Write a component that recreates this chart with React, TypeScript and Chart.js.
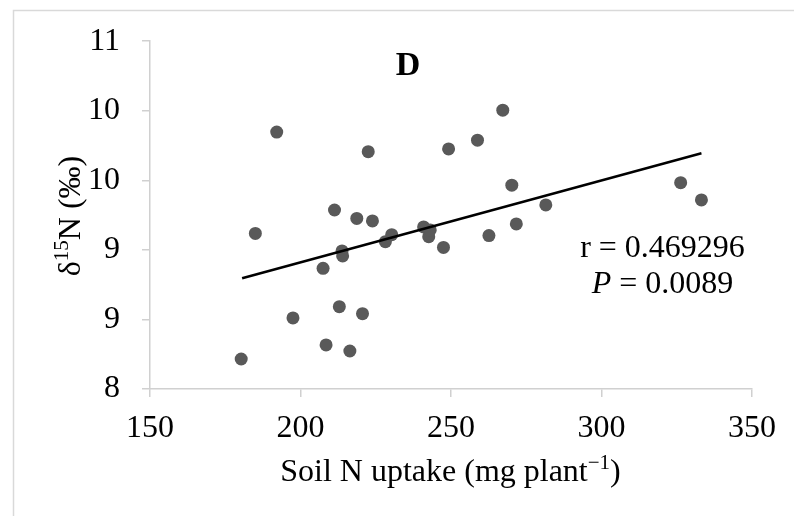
import React, { useEffect, useRef } from "react";
import { Chart, registerables } from "chart.js";

Chart.register(...registerables);

// Soil N uptake (mg plant-1)
const uptake = [180.3, 185.0, 192.1, 197.5, 207.5, 208.5, 211.3, 212.9, 213.8, 214.0, 216.4, 218.7, 220.6, 222.5, 223.9, 228.2, 230.3, 240.9, 242.6, 243.1, 247.5, 249.2, 258.8, 262.6, 267.2, 270.2, 271.7, 281.5, 326.3, 333.2];
// delta 15N (per mil)
const delta15N = [8.259, 9.342, 10.216, 8.613, 9.041, 8.38, 9.544, 8.71, 9.191, 9.148, 8.328, 9.471, 8.65, 10.047, 9.45, 9.271, 9.331, 9.398, 9.314, 9.372, 9.221, 10.071, 10.146, 9.323, 10.405, 9.758, 9.424, 9.588, 9.78, 9.631];
// linear trend line end points
const trendX = [180.6, 333.2];
const trendY = [8.955, 10.034];
// axis ticks
const xTicks = [150, 200, 250, 300, 350];
const yTickValues = [8, 8.6, 9.2, 9.8, 10.4, 11];
const yTickLabels = ["8", "9", "9", "10", "10", "11"];
const panelTitle = "D";
const statLines = ["r = 0.469296", "0.0089"];

const SERIF = "'Liberation Serif', 'Times New Roman', serif";
const AXIS_GREY = "#d0d0d0";

const decorPlugin = {
  id: "decor",
  beforeDraw(chart: any) {
    const ctx = chart.ctx;
    ctx.save();
    ctx.fillStyle = "#ffffff";
    ctx.fillRect(0, 0, chart.width, chart.height);
    ctx.strokeStyle = "#d9d9d9";
    ctx.lineWidth = 1.5;
    ctx.beginPath();
    ctx.moveTo(13.5, chart.height);
    ctx.lineTo(13.5, 10.5);
    ctx.lineTo(chart.width, 10.5);
    ctx.stroke();
    ctx.restore();
  },
  afterDraw(chart: any) {
    const ctx = chart.ctx;
    ctx.save();
    ctx.fillStyle = "#000";
    ctx.textBaseline = "alphabetic";
    const F = 32;
    const S = 21;
    // panel title
    ctx.font = `bold 34px ${SERIF}`;
    ctx.textAlign = "center";
    ctx.fillText(panelTitle, 408, 75);

    // stats
    ctx.font = `${F}px ${SERIF}`;
    ctx.textAlign = "left";
    const w1 = ctx.measureText(statLines[0]).width;
    ctx.fillText(statLines[0], 662.5 - w1 / 2, 257);
    ctx.font = `italic ${F}px ${SERIF}`;
    const pw = ctx.measureText("P").width;
    ctx.font = `${F}px ${SERIF}`;
    const rest = " = " + statLines[1];
    const rw = ctx.measureText(rest).width;
    const sx = 662.5 - (pw + rw) / 2;
    ctx.font = `italic ${F}px ${SERIF}`;
    ctx.fillText("P", sx, 293);
    ctx.font = `${F}px ${SERIF}`;
    ctx.fillText(rest, sx + pw, 293);

    // axis titles with superscripts
    const drawPieces = (pieces: [string, number, number][], cx: number) => {
      let total = 0;
      for (const [t, size] of pieces) {
        ctx.font = `${size}px ${SERIF}`;
        total += ctx.measureText(t).width;
      }
      let x = cx - total / 2;
      for (const [t, size, rise] of pieces) {
        ctx.font = `${size}px ${SERIF}`;
        ctx.fillText(t, x, -rise);
        x += ctx.measureText(t).width;
      }
    };
    ctx.save();
    ctx.translate(0, 481);
    drawPieces(
      [
        ["Soil N uptake (mg plant", F, 0],
        ["\u22121", S, 12],
        [")", F, 0],
      ],
      450.5
    );
    ctx.restore();

    ctx.save();
    ctx.translate(80, 216);
    ctx.rotate(-Math.PI / 2);
    drawPieces(
      [
        ["\u03b4", F, 0],
        ["15", S, 12],
        ["N (\u2030)", F, 0],
      ],
      0
    );
    ctx.restore();
    ctx.restore();
  },
};

export default function App() {
  const ref = useRef<HTMLCanvasElement | null>(null);
  useEffect(() => {
    if (!ref.current) return;
    const points = uptake.map((x, i) => ({ x, y: delta15N[i] }));
    const trend = trendX.map((x, i) => ({ x, y: trendY[i] }));
    const chart = new Chart(ref.current, {
      type: "scatter",
      data: {
        datasets: [
          {
            type: "line",
            data: trend,
            borderColor: "#000",
            borderWidth: 2.5,
            pointRadius: 0,
            fill: false,
            order: 0,
          } as any,
          {
            data: points,
            backgroundColor: "#595959",
            borderColor: "#595959",
            borderWidth: 0,
            pointRadius: 6.5,
            order: 1,
          },
        ],
      },
      options: {
        animation: false,
        responsive: false,
        devicePixelRatio: 1,
        layout: { padding: { left: 0, top: 41, right: 42, bottom: 0 } },
        plugins: { legend: { display: false }, tooltip: { enabled: false } },
        scales: {
          x: {
            type: "linear",
            min: 150,
            max: 350,
            afterFit: (s: any) => {
              s.height = 127;
            },
            afterBuildTicks: (s: any) => {
              s.ticks = xTicks.map((v) => ({ value: v }));
            },
            grid: {
              display: true,
              drawOnChartArea: false,
              drawTicks: true,
              tickLength: 8,
              color: AXIS_GREY,
              lineWidth: 1.5,
            },
            border: { display: true, color: AXIS_GREY, width: 1.5 },
            ticks: {
              color: "#000",
              padding: 12,
              font: { family: SERIF, size: 32 },
              maxRotation: 0,
            },
          },
          y: {
            type: "linear",
            min: 8,
            max: 11,
            afterFit: (s: any) => {
              s.width = 150;
            },
            afterBuildTicks: (s: any) => {
              s.ticks = yTickValues.map((v) => ({ value: v }));
            },
            grid: {
              display: true,
              drawOnChartArea: false,
              drawTicks: true,
              tickLength: 8,
              color: AXIS_GREY,
              lineWidth: 1.5,
            },
            border: { display: true, color: AXIS_GREY, width: 1.5 },
            ticks: {
              color: "#000",
              padding: 22,
              font: { family: SERIF, size: 32 },
              callback: (_v: any, i: number) => yTickLabels[i],
            },
          },
        },
      },
      plugins: [decorPlugin],
    });
    return () => chart.destroy();
  }, []);
  return (
    <div style={{ position: "absolute", left: 0, top: 0, width: 794, height: 516, background: "#fff" }}>
      <canvas ref={ref} width={794} height={516} style={{ display: "block" }} />
    </div>
  );
}
